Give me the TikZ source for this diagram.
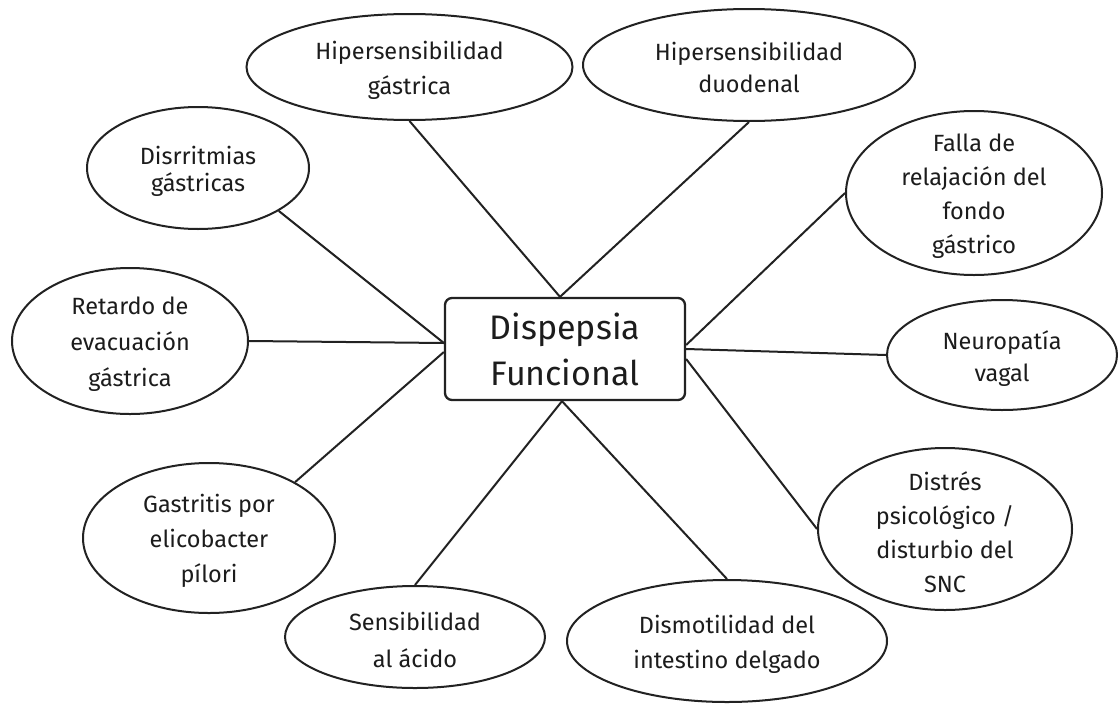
\documentclass[tikz,border=0pt]{standalone}
\usepackage{fontspec}
\setmainfont{Fira Sans}
\usetikzlibrary{shapes.geometric}
\definecolor{linec}{HTML}{222222}
\definecolor{txtc}{HTML}{1C1C1C}
\newcommand{\lsk}[1]{\fontsize{23.5}{#1}\selectfont}
\begin{document}
\begin{tikzpicture}[x=1pt,y=-1pt,
  bub/.style={draw=linec, line width=2pt, ellipse, inner sep=0pt},
  lbl/.style={align=center, text=txtc, inner sep=0pt},
  con/.style={draw=linec, line width=2pt},
  mainbox/.style={draw=linec, line width=2.3pt, rounded corners=7pt, inner sep=0pt,
    minimum width=240pt, minimum height=102pt, align=center, text=txtc,
    font=\fontsize{34}{46}\selectfont}]
\useasboundingbox (0,0) rectangle (1118,704);
\fill[white] (0,0) rectangle (1118,704);

% central box
\node[mainbox] (box) at (565,349) {Dispepsia\\Funcional};

% ellipses
\node[bub, minimum width=326pt, minimum height=106pt] (gas) at (409.5,67) {};
\node[bub, minimum width=332pt, minimum height=112pt] (duo) at (749,65) {};
\node[bub, minimum width=222pt, minimum height=122pt] (disr) at (198,168) {};
\node[bub, minimum width=256pt, minimum height=164pt] (falla) at (974,193) {};
\node[bub, minimum width=236pt, minimum height=146pt] (ret) at (130,341) {};
\node[bub, minimum width=230pt, minimum height=110pt] (neuro) at (1002,355) {};
\node[bub, minimum width=252pt, minimum height=150pt] (gtr) at (209,538) {};
\node[bub, minimum width=260pt, minimum height=102pt] (sens) at (415,637) {};
\node[bub, minimum width=320pt, minimum height=122pt] (dism) at (727,641) {};
\node[bub, minimum width=254pt, minimum height=162pt] (dist) at (945,529) {};

% labels
\node[lbl, font=\lsk{35}] (gas-t) at ([yshift=-3pt]gas.center) {Hipersensibilidad\\gástrica};
\node[lbl, font=\lsk{32}] (duo-t) at ([yshift=-2pt]duo.center) {Hipersensibilidad\\duodenal};
\node[lbl, font=\lsk{27}] (disr-t) at ([yshift=-3pt]disr.center) {Disrritmias\\gástricas};
\node[lbl, font=\lsk{34}] (falla-t) at ([yshift=-3pt]falla.center) {Falla de\\relajación del\\fondo\\gástrico};
\node[lbl, font=\lsk{36}] (ret-t) at ([yshift=-3pt]ret.center) {Retardo de\\evacuación\\gástrica};
\node[lbl, font=\lsk{32}] (neuro-t) at ([yshift=-4pt]neuro.center) {Neuropatía\\vagal};
\node[lbl, font=\lsk{35}] (gtr-t) at ([yshift=-3pt]gtr.center) {Gastritis por\\elicobacter\\pílori};
\node[lbl, font=\lsk{37}] (sens-t) at ([yshift=-3pt]sens.center) {Sensibilidad\\al ácido};
\node[lbl, font=\lsk{35}] (dism-t) at ([yshift=-3pt]dism.center) {Dismotilidad del\\intestino delgado};
\node[lbl, font=\lsk{34}] (dist-t) at ([yshift=-3pt]dist.center) {Distrés\\psicológico /\\disturbio del\\SNC};

% attachment points on the box
\coordinate (bT) at ([xshift=-5pt]box.north);
\coordinate (bB) at ([xshift=-3pt]box.south);
\coordinate (bL1) at ([yshift=6pt]box.west);
\coordinate (bL2) at ([yshift=-3pt]box.west);
\coordinate (bR1) at ([yshift=4pt]box.east);
\coordinate (bR2) at (box.east);
\coordinate (bR3) at ([yshift=-10pt]box.east);

% connectors
\draw[con] (gas.south) -- (bT);
\draw[con] (duo.south) -- (bT);
\draw[con] (disr.-28) -- (bL1);
\draw[con] (ret.east) -- (bL1);
\draw[con] (gtr.33) -- (bL2);
\draw[con] (sens.north) -- (bB);
\draw[con] (dism.north) -- (bB);
\draw[con] (falla.west) -- (bR1);
\draw[con] (neuro.west) -- (bR2);
\draw[con] (dist.west) -- (bR3);
\end{tikzpicture}
\end{document}
